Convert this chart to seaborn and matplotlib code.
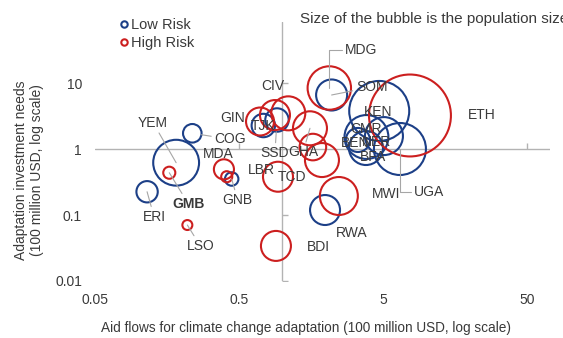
import matplotlib
matplotlib.use("Agg")
import matplotlib.pyplot as plt
from matplotlib.lines import Line2D
import pandas as pd
import seaborn as sns

# Low-risk countries: aid flows and adaptation needs (100 million USD), population (millions)
low_codes = ["YEM", "COG", "ERI", "GNB", "TJK", "SSD", "SOM", "KEN", "CMR", "NER", "BEN", "BFA", "UGA", "RWA"]
low_aid = [0.183, 0.237, 0.115, 0.445, 0.738, 0.918, 2.20, 4.71, 3.84, 5.08, 3.35, 3.81, 6.56, 1.98]
low_needs = [0.62, 1.73, 0.225, 0.351, 2.27, 2.75, 6.58, 3.77, 1.52, 1.57, 1.37, 1.035, 1.0, 0.119]
low_pop = [36, 5.9, 7.8, 3.1, 9.4, 9.4, 16.5, 61.7, 33, 24.7, 9.9, 19.8, 46.3, 15.4]

# High-risk countries
high_codes = ["GMB", "LSO", "MDA", "LBR", "TCD", "BDI", "GIN", "", "CIV", "GHA", "", "", "MDG", "ETH", "MWI"]
high_aid = [0.164, 0.219, 0.393, 0.411, 0.933, 0.903, 0.70, 0.889, 1.10, 1.556, 1.63, 1.885, 2.12, 7.70, 2.47]
high_needs = [0.437, 0.0705, 0.492, 0.38, 0.38, 0.034, 2.61, 3.27, 3.47, 2.06, 1.07, 0.68, 8.4, 3.22, 0.194]
high_pop = [2.5, 1.7, 6.9, 2.1, 15.4, 15.4, 13.4, 15.4, 19.8, 19.8, 12.1, 19.8, 32.3, 115, 24.7]

risk_names = ["Low Risk", "High Risk"]
x_ticks = [0.05, 0.5, 5, 50]
x_tick_labels = ["0.05", "0.5", "5", "50"]
y_ticks = [0.01, 0.1, 1, 10]
y_tick_labels = ["0.01", "0.1", "1", "10"]

# Label placement: offset of each label from its bubble (pixels) and leader-line kind
label_place = {
    "YEM": (-23, 40, "line"), "COG": (38, -6, "edge"), "GMB": (19, -31, "line"),
    "ERI": (7, -25, "line"), "LSO": (13, -21, "line"), "MDA": (-6, 15, None),
    "GNB": (6, -21, "line"), "LBR": (35, 7, None), "TCD": (14, 0, None),
    "BDI": (42, -1, None), "GIN": (-27, 4, None), "TJK": (0, 0, None),
    "SSD": (-2, -33, "edge"), "CIV": (-15, 27, None), "GHA": (-7, -24, "line"),
    "MDG": (32, 38, "elbow"), "SOM": (40, 8, "line"), "KEN": (-1, -1, None),
    "ETH": (72, 0, None), "CMR": (0, 8, None), "BEN": (-3, -3, None),
    "NER": (-7, -6, None), "BFA": (7, -9, None), "UGA": (29, -43, "elbow"),
    "MWI": (47, 2, None), "RWA": (27, -23, None),
}

BLUE = "#1c3f87"
RED = "#cc1f1f"
AXIS_GREY = "#b3b3b3"
LEADER = "#a6a6a6"
TEXT = "#3a3a3a"

sns.set_theme(style="white")
plt.rcParams["font.family"] = ["Liberation Sans", "DejaVu Sans"]

df = pd.concat([
    pd.DataFrame({"code": low_codes, "aid": low_aid, "needs": low_needs,
                  "pop": low_pop, "risk": risk_names[0]}),
    pd.DataFrame({"code": high_codes, "aid": high_aid, "needs": high_needs,
                  "pop": high_pop, "risk": risk_names[1]}),
], ignore_index=True)

W, H = 563, 338
fig = plt.figure(figsize=(W / 100, H / 100), dpi=100)
ax = fig.add_axes([95 / W, 1 - 281 / H, 455 / W, 259 / H])
ax.set_xscale("log")
ax.set_yscale("log")
ax.set_xlim(0.05, 72.3)
ax.set_ylim(0.01, 84)

# bubble area proportional to population
pop_max = df["pop"].max()
px_per_sqrt_pop = 3.82
s_max = (2 * px_per_sqrt_pop * 0.72) ** 2 * pop_max

for risk, color in zip(risk_names, [BLUE, RED]):
    sub = df[df["risk"] == risk]
    sns.scatterplot(data=sub, x="aid", y="needs", size="pop", sizes=(0, s_max),
                    size_norm=(0, pop_max), color=color, legend=False, ax=ax,
                    zorder=3)
    coll = ax.collections[-1]
    coll.set_facecolor("none")
    coll.set_edgecolor(color)
    coll.set_linewidth(1.5)

# crossing axes at x = 1 and y = 1
ax.plot([0.05, 72.3], [1, 1], color=AXIS_GREY, lw=1.0, zorder=1)
ax.plot([1, 1], [0.01, 84], color=AXIS_GREY, lw=1.0, zorder=1)
ax.plot([0.5, 5, 50], [1, 1, 1], ls="none", marker=2, ms=4, mew=1.0,
        color=AXIS_GREY, zorder=1)
ax.plot([1, 1, 1], [0.01, 0.1, 10], ls="none", marker=1, ms=4, mew=1.0,
        color=AXIS_GREY, zorder=1)

# country labels
for _, row in df.iterrows():
    code = row["code"]
    if not code:
        continue
    dx, dy, leader = label_place[code]
    r_pt = px_per_sqrt_pop * row["pop"] ** 0.5 * 0.72
    props = None
    if leader == "line":
        props = dict(arrowstyle="-", color=LEADER, lw=0.8, shrinkA=0, shrinkB=0)
    elif leader == "edge":
        props = dict(arrowstyle="-", color=LEADER, lw=0.8, shrinkA=0, shrinkB=r_pt)
    elif leader == "elbow":
        props = dict(arrowstyle="-", color=LEADER, lw=0.8, shrinkA=0, shrinkB=0,
                     connectionstyle="angle,angleA=0,angleB=90,rad=0")
    ax.annotate(code, xy=(row["aid"], row["needs"]), xytext=(dx, dy),
                textcoords="offset pixels", ha="center", va="center",
                fontsize=10, color=TEXT, arrowprops=props, zorder=5,
                fontweight="bold" if code == "GMB" else "normal")

ax.set_xticks(x_ticks, labels=x_tick_labels)
ax.set_yticks(y_ticks, labels=y_tick_labels)
ax.minorticks_off()
ax.tick_params(axis="x", length=0, pad=8.5, labelsize=10, labelcolor=TEXT)
ax.tick_params(axis="y", length=0, pad=9.4, labelsize=10, labelcolor=TEXT)
for sp in ax.spines.values():
    sp.set_visible(False)

ax.set_xlabel("Aid flows for climate change adaptation (100 million USD, log scale)",
              fontsize=9.8, color=TEXT, family=["Liberation Sans Narrow", "Liberation Sans"])
ax.xaxis.set_label_coords((306 - 95) / 455, (281 - 328) / 259)
ax.xaxis.label.set_va("center")
ax.set_ylabel("Adaptation investment needs\n(100 million USD, log scale)",
              fontsize=10, color=TEXT, linespacing=1.15,
              family=["Liberation Sans Narrow", "Liberation Sans"])
ax.yaxis.set_label_coords((29 - 95) / 455, (281 - 170) / 259)
ax.yaxis.label.set_va("center")

handles = [Line2D([], [], ls="none", marker="o", ms=4.6, mew=1.5, mfc="none", mec=c)
           for c in [BLUE, RED]]
fig.legend(handles, risk_names, loc="upper left", bbox_to_anchor=(119 / W, 1 - 18 / H),
           frameon=False, fontsize=10.5, handlelength=0.7, handletextpad=0.15,
           labelspacing=0.25, borderpad=0, borderaxespad=0, labelcolor=TEXT)

fig.text(300 / W, 1 - 19 / H, "Size of the bubble is the population size",
         ha="left", va="center", fontsize=11, color=TEXT)

fig.savefig("out.png", dpi=100)
